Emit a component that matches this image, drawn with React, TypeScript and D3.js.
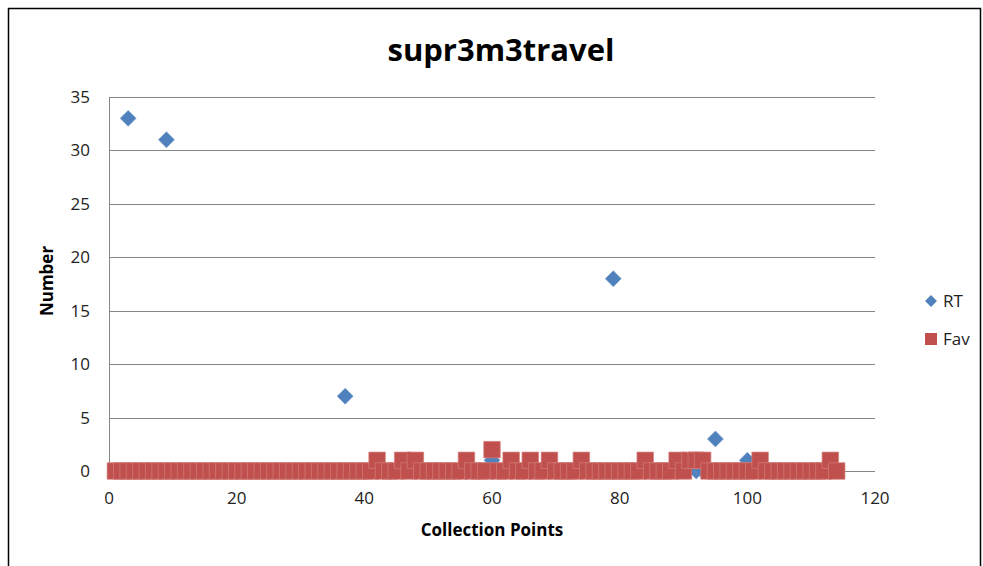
import React from "react";
import * as d3 from "d3";

const title = "supr3m3travel";
const xTicks = [0, 20, 40, 60, 80, 100, 120];
const yTicks = [0, 5, 10, 15, 20, 25, 30, 35];
const seriesNames = ["RT", "Fav"];

// Collection points 1..114
const rtValues = [
  0, 0, 33, 0, 0, 0, 0, 0, 31, 0,
  0, 0, 0, 0, 0, 0, 0, 0, 0, 0,
  0, 0, 0, 0, 0, 0, 0, 0, 0, 0,
  0, 0, 0, 0, 0, 0, 7, 0, 0, 0,
  0, 0, 0, 0, 0, 0, 0, 0, 0, 0,
  0, 0, 0, 0, 0, 0, 0, 0, 0, 1,
  0, 0, 0, 0, 0, 1, 0, 0, 0, 0,
  0, 0, 0, 0, 0, 0, 0, 0, 18, 0,
  0, 0, 0, 0, 0, 0, 0, 0, 0, 1,
  1, 0, 0, 0, 3, 0, 0, 0, 0, 1,
  0, 0, 0, 0, 0, 0, 0, 0, 0, 0,
  0, 0, 0, 0,
];

const favValues = [
  0, 0, 0, 0, 0, 0, 0, 0, 0, 0,
  0, 0, 0, 0, 0, 0, 0, 0, 0, 0,
  0, 0, 0, 0, 0, 0, 0, 0, 0, 0,
  0, 0, 0, 0, 0, 0, 0, 0, 0, 0,
  0, 1, 0, 0, 0, 1, 0, 1, 0, 0,
  0, 0, 0, 0, 0, 1, 0, 0, 0, 2,
  0, 0, 1, 0, 0, 1, 0, 0, 1, 0,
  0, 0, 0, 1, 0, 0, 0, 0, 0, 0,
  0, 0, 0, 1, 0, 0, 0, 0, 1, 0,
  1, 1, 1, 0, 0, 0, 0, 0, 0, 0,
  0, 1, 0, 0, 0, 0, 0, 0, 0, 0,
  0, 0, 1, 0,
];

const BLUE = "#4F81BD";
const RED = "#C0504D";
const FONT = "'Open Sans', 'Liberation Sans', sans-serif";

export default function App() {
  const W = 983;
  const H = 566;
  const x = d3.scaleLinear().domain([0, 120]).range([109, 875]);
  const y = d3.scaleLinear().domain([0, 35]).range([471, 97]);
  const diamond = d3.symbol().type(d3.symbolDiamond2).size(162)();
  const square = d3.symbol().type(d3.symbolSquare).size(272)();

  return (
    <div style={{ position: "absolute", left: 0, top: 0 }}>
      <svg width={W} height={H} style={{ display: "block", background: "#fff" }}>
        <rect x={8.5} y={8.5} width={972} height={600} fill="#fff" stroke="#000" strokeWidth={1.5} />
        <text x={501} y={61} textAnchor="middle" fontFamily={FONT} fontWeight="bold" fontSize={31} fill="#000">
          {title}
        </text>
        {yTicks.map((t) => (
          <g key={"y" + t}>
            <line x1={x(0)} x2={x(120)} y1={Math.round(y(t)) + 0.5} y2={Math.round(y(t)) + 0.5} stroke="#868686" strokeWidth={1} />
            <text x={90} y={y(t)} dy="0.35em" textAnchor="end" fontFamily={FONT} fontSize={17} fill="#222">
              {t}
            </text>
          </g>
        ))}
        <line x1={x(0) + 0.5} x2={x(0) + 0.5} y1={y(35)} y2={y(0)} stroke="#868686" strokeWidth={1} />
        {xTicks.map((t) => (
          <text key={"x" + t} x={x(t)} y={504} textAnchor="middle" fontFamily={FONT} fontSize={17} fill="#222">
            {t}
          </text>
        ))}
        <text x={492} y={536} textAnchor="middle" fontFamily={FONT} fontWeight="bold" fontSize={17} fill="#000">
          Collection Points
        </text>
        <text
          transform={`translate(53,281) rotate(-90)`}
          textAnchor="middle"
          fontFamily={FONT}
          fontWeight="bold"
          fontSize={17}
          fill="#000"
        >
          Number
        </text>
        <g>
          {rtValues.map((v, i) => (
            <path key={"rt" + i} d={diamond!} transform={`translate(${x(i + 1)},${y(v)})`} fill={BLUE} stroke="#6f97c9" strokeWidth={0.6} />
          ))}
        </g>
        <g>
          {favValues.map((v, i) => (
            <path key={"fav" + i} d={square!} transform={`translate(${x(i + 1)},${y(v)})`} fill={RED} stroke="#d27e7b" strokeWidth={0.7} />
          ))}
        </g>
        <g>
          <path d={d3.symbol().type(d3.symbolDiamond2).size(90)()!} transform="translate(931,301)" fill={BLUE} />
          <text x={943} y={301} dy="0.35em" fontFamily={FONT} fontSize={17} fill="#222">
            {seriesNames[0]}
          </text>
          <rect x={925} y={333} width={12} height={12} fill={RED} />
          <text x={943} y={339} dy="0.35em" fontFamily={FONT} fontSize={17} fill="#222">
            {seriesNames[1]}
          </text>
        </g>
      </svg>
    </div>
  );
}
